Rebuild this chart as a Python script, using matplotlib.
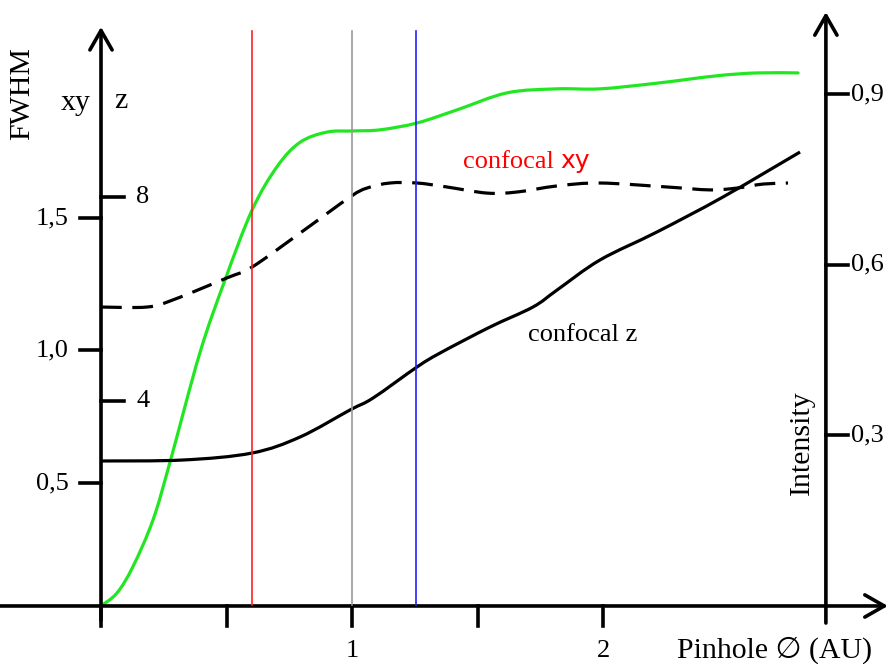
import matplotlib

matplotlib.use("Agg")
import matplotlib.pyplot as plt
from matplotlib.path import Path
from matplotlib.patches import PathPatch

# pinhole diameter (AU) and curves
green_x = [0.0, 0.064, 0.127, 0.207, 0.275, 0.394, 0.494, 0.602, 0.701, 0.793, 0.900,
           1.004, 1.112, 1.259, 1.418, 1.618, 1.817, 1.988, 2.215, 2.454, 2.614, 2.777]
green_int = [0.0, 0.023, 0.069, 0.151, 0.253, 0.445, 0.573, 0.696, 0.772, 0.815, 0.833,
             0.835, 0.837, 0.849, 0.872, 0.902, 0.909, 0.909, 0.919, 0.932, 0.937, 0.937]

xy_x = [0.0, 0.183, 0.287, 0.502, 0.602, 0.793, 0.992, 1.060, 1.151, 1.259, 1.378,
        1.538, 1.657, 1.817, 1.988, 2.255, 2.426, 2.534, 2.637, 2.737]
xy_fwhm = [1.164, 1.164, 1.191, 1.274, 1.315, 1.443, 1.579, 1.613, 1.632, 1.632, 1.617,
           1.594, 1.598, 1.621, 1.632, 1.617, 1.606, 1.613, 1.628, 1.632]

z_x = [0.0, 0.327, 0.602, 0.793, 0.992, 1.084, 1.259, 1.351, 1.550, 1.721, 1.817,
       1.988, 2.215, 2.478, 2.785]
z_fwhm = [2.824, 2.843, 2.980, 3.294, 3.824, 4.059, 4.667, 4.941, 5.451, 5.843, 6.176,
          6.765, 7.314, 8.0, 8.882]

marker_x = [0.6, 1.0, 1.255]
marker_colors = ["#ff2020", "#999999", "#2020ff"]

x_ticks = [0, 0.5, 1, 1.5, 2]
x_labels = {1: "1", 2: "2"}
xy_ticks = [0.5, 1.0, 1.5]
xy_labels = ["0,5", "1,0", "1,5"]
z_ticks = [4, 8]
z_labels = ["4", "8"]
int_ticks = [0.3, 0.6, 0.9]
int_labels = ["0,3", "0,6", "0,9"]

SERIF = ["Liberation Serif", "DejaVu Sans"]
FS = 19      # tick labels
FT = 21.5    # axis titles
FC = 19      # curve labels
XLIM = (-0.4024, 3.1434)
X_RIGHT = 2.888


def smooth_path(xs, ys):
    # Catmull-Rom through the read points, drawn as cubic Bezier segments
    pts = list(zip(xs, ys))
    verts = [pts[0]]
    codes = [Path.MOVETO]
    n = len(pts)
    for i in range(n - 1):
        p0 = pts[i - 1] if i > 0 else pts[i]
        p1 = pts[i]
        p2 = pts[i + 1]
        p3 = pts[i + 2] if i + 2 < n else pts[i + 1]
        c1 = (p1[0] + (p2[0] - p0[0]) / 6, p1[1] + (p2[1] - p0[1]) / 6)
        c2 = (p2[0] - (p3[0] - p1[0]) / 6, p2[1] - (p3[1] - p1[1]) / 6)
        verts += [c1, c2, p2]
        codes += [Path.CURVE4] * 3
    return Path(verts, codes)


fig = plt.figure(figsize=(8.9, 6.64), dpi=100)
ax = fig.add_axes([0, 0, 1, 1])
ax_xy = fig.add_axes([0, 0, 1, 1])
ax_z = fig.add_axes([0, 0, 1, 1])
for a in (ax, ax_xy, ax_z):
    a.set_xlim(*XLIM)
    a.axis("off")
    a.patch.set_visible(False)
ax.set_ylim(-0.1020, 1.0652)
ax_xy.set_ylim(-0.1830, 2.3226)
ax_z.set_ylim(-1.1569, 11.8627)

# curves
ax.add_patch(PathPatch(smooth_path(green_x, green_int), fill=False,
                       edgecolor="#22e622", lw=2.3, capstyle="round"))
ax_xy.add_patch(PathPatch(smooth_path(xy_x, xy_fwhm), fill=False, edgecolor="black",
                          lw=2.3, linestyle=(0, (6.5, 3.3))))
ax_z.add_patch(PathPatch(smooth_path(z_x, z_fwhm), fill=False, edgecolor="black", lw=2.3))

# vertical markers
for xv, c in zip(marker_x, marker_colors):
    ax_z.plot([xv, xv], [0, 11.25], color=c, lw=1.2)

# axes with arrows
arrow = dict(arrowstyle="->,head_length=0.7,head_width=0.4", lw=2.6,
             mutation_scale=20, shrinkA=0, shrinkB=0, color="black")
ax.annotate("", xy=(3.135, 0.0), xytext=(XLIM[0], 0.0), arrowprops=arrow)
ax.annotate("", xy=(0.0, 1.018), xytext=(0.0, -0.025), arrowprops=arrow)
ax.annotate("", xy=(X_RIGHT, 1.044), xytext=(X_RIGHT, -0.03), arrowprops=arrow)

# x ticks
for xt in x_ticks:
    ax.plot([xt, xt], [0, -0.036], color="black", lw=2.6)
    if xt in x_labels:
        ax.text(xt, -0.08, x_labels[xt], ha="center", va="center",
                fontsize=FS, family=SERIF)

# left FWHM xy ticks
for yt, lab in zip(xy_ticks, xy_labels):
    ax_xy.plot([-0.085, 0], [yt, yt], color="black", lw=2.6)
    ax_xy.text(-0.13, yt, lab, ha="right", va="center", fontsize=FS, family=SERIF)

# left z ticks
for yt, lab in zip(z_ticks, z_labels):
    ax_z.plot([0, 0.093], [yt, yt], color="black", lw=2.6)
    ax_z.text(0.14, yt, lab, ha="left", va="center", fontsize=FS, family=SERIF)

# right intensity ticks
for yt, lab in zip(int_ticks, int_labels):
    ax.plot([X_RIGHT, X_RIGHT + 0.088], [yt, yt], color="black", lw=2.6)
    ax.text(X_RIGHT + 0.1, yt, lab, ha="left", va="center", fontsize=FS, family=SERIF)

# axis titles
fig.text(22 / 890, 1 - 94 / 664, "FWHM", rotation=90, ha="center", va="center",
         fontsize=FT, family=SERIF)
fig.text(76 / 890, 1 - 103 / 664, "xy", ha="center", va="center", fontsize=FT, family=SERIF)
fig.text(121 / 890, 1 - 101 / 664, "z", ha="center", va="center", fontsize=FT, family=SERIF)
fig.text(802 / 890, 1 - 443 / 664, "Intensity", rotation=90, ha="center", va="center",
         fontsize=FT, family=SERIF)
fig.text(677 / 890, 1 - 650 / 664, "Pinhole \u2205 (AU)", ha="left", va="center",
         fontsize=FT, family=SERIF)

# curve labels
t = fig.text(463 / 890, 1 - 162 / 664, "confocal ", ha="left", va="center",
             fontsize=FC, family=SERIF, color="red")
fig.canvas.draw()
bb = t.get_window_extent()
fig.text(bb.x1 / 890, 1 - 161 / 664, "xy", ha="left", va="center",
         fontsize=FC - 1, family="DejaVu Sans", color="red")
fig.text(528 / 890, 1 - 335 / 664, "confocal z", ha="left", va="center",
         fontsize=FC, family=SERIF)

fig.savefig("out.png", dpi=100)
